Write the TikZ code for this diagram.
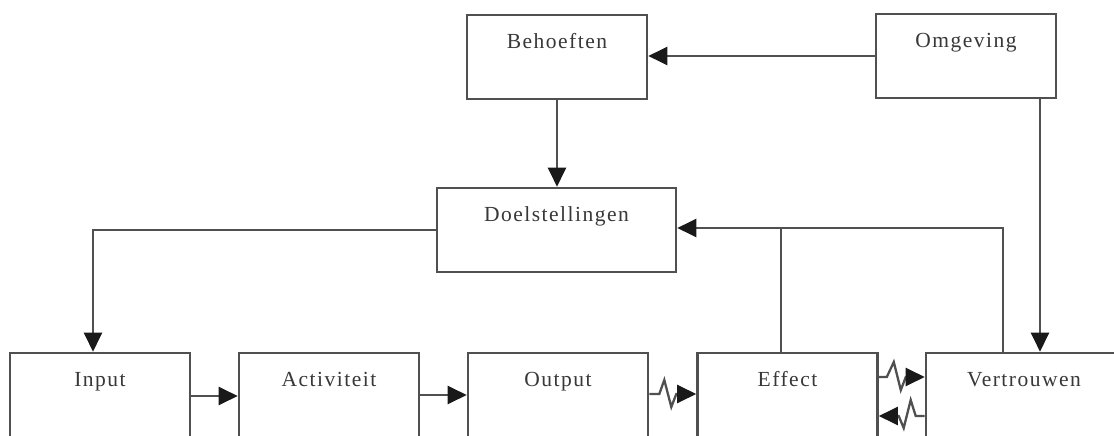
\documentclass[tikz,border=0pt]{standalone}
\usepackage{fontspec}
\setmainfont{Liberation Serif}[LetterSpace=7]
\usetikzlibrary{arrows.meta}
\definecolor{linecol}{HTML}{505050}
\definecolor{txtcol}{HTML}{383838}
\begin{document}
\begin{tikzpicture}[x=1pt,y=-1pt,
  box/.style={draw=linecol,line width=2.6pt,minimum width=180pt,minimum height=84pt,inner sep=0pt,fill=white},
  lbl/.style={anchor=base,text=txtcol,font=\fontsize{21.5}{25}\selectfont,yshift=-35pt,inner sep=0pt},
  conn/.style={draw=linecol,line width=2.3pt},
  arr/.style={conn,arrows={-{Triangle[length=19pt,width=18pt,color=black!90]}}},
  zz/.style={arr,line join=miter,miter limit=10}]
\useasboundingbox (0,0) rectangle (1114,436);
\begin{scope}
\clip (0,0) rectangle (1114,436);
\node[box,label={[lbl]north:Behoeften}] (beh) at (557,57) {};
\node[box,label={[lbl]north:Omgeving}] (omg) at (966,56) {};
\node[box,minimum width=239pt,label={[lbl]north:Doelstellingen}] (doel) at (556.5,230) {};
\node[box,label={[lbl]north:Input}] (inp) at (100,395) {};
\node[box,label={[lbl]north:Activiteit}] (act) at (329,395) {};
\node[box,label={[lbl]north:Output}] (out) at (558,395) {};
\node[box,label={[lbl]north:Effect}] (eff) at (787.5,395) {};
\node[box,minimum width=196pt,label={[lbl]north:Vertrouwen}] (ver) at (1024,395) {};

% top connectors
\draw[arr] (omg.west) -- (omg.west -| beh.east);
\draw[arr] (beh.south) -- (beh.south |- doel.north);
\coordinate (inpin) at ([xshift=-7pt]inp.north);
\draw[arr] (doel.west) -| (inpin);
\coordinate (omgout) at ([xshift=74pt]omg.south);
\draw[arr] (omgout) -- (omgout |- ver.north);

% feedback
\coordinate (fbv) at ([xshift=-21pt]ver.north);
\coordinate (fbe) at ([xshift=-6.5pt]eff.north);
\draw[arr] (fbv) |- ([yshift=2pt]doel.east);
\draw[conn] (fbe) -- (fbe |- 0,228);

% bottom row
\draw[arr] ([yshift=-1pt]inp.east) -- ([yshift=-1pt]act.west);
\draw[arr] (act.east) -- (out.west);
\draw[zz] ([yshift=1pt]out.east) -- ++(10,0) -- ++(5,-14) -- ++(7,27) -- ++(5,-13) -- ([yshift=1pt]eff.west);
\draw[zz] ([yshift=18pt]eff.east) -- ++(8,0) -- ++(7,-15) -- ++(7,28) -- ++(5,-13) -- ([yshift=18pt]ver.west);
\draw[zz] ([yshift=-21pt]ver.west) -- ++(-9,0) -- ++(-5,-16) -- ++(-7,28) -- ++(-5,-12) -- ([yshift=-21pt]eff.east);
\end{scope}
\end{tikzpicture}
\end{document}
